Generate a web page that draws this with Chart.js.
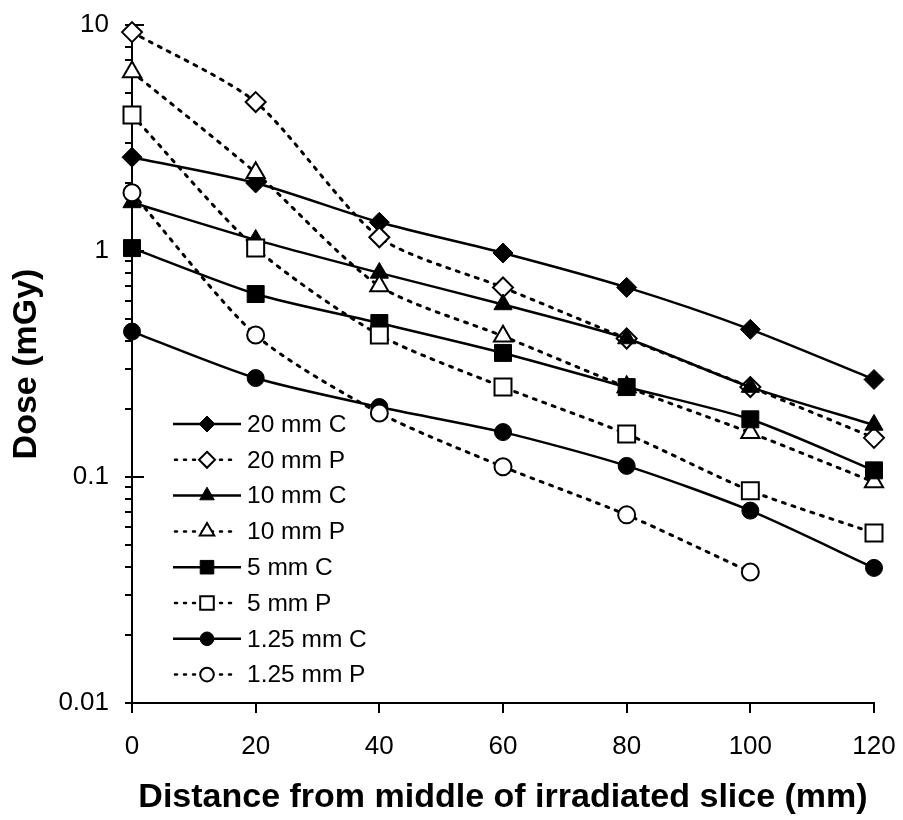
<!DOCTYPE html>
<html>
<head>
<meta charset="utf-8">
<title>Dose vs distance</title>
<script src="https://cdn.jsdelivr.net/npm/chart.js@4.4.0/dist/chart.umd.min.js"></script>
<style>
  html, body { margin: 0; padding: 0; background: #fff; }
  #wrap { position: relative; width: 903px; height: 820px; }
</style>
</head>
<body>
<div id="wrap"><canvas id="chart"></canvas></div>
<script>
// distance from middle of irradiated slice (mm)
const xValues = [0, 20, 40, 60, 80, 100, 120];

// dose (mGy), C = CT, P = phantom
const seriesNames = ["20 mm C", "20 mm P", "10 mm C", "10 mm P", "5 mm C", "5 mm P", "1.25 mm C", "1.25 mm P"];
const dose20C = [2.6, 2.0, 1.34, 0.98, 0.69, 0.45, 0.27];
const dose20P = [9.3, 4.56, 1.15, 0.69, 0.41, 0.25, 0.149];
const dose10C = [1.64, 1.12, 0.80, 0.58, 0.41, 0.25, 0.17];
const dose10P = [6.2, 2.22, 0.70, 0.42, 0.25, 0.157, 0.095];
const dose5C = [1.03, 0.645, 0.48, 0.354, 0.25, 0.18, 0.107];
const dose5P = [4.0, 1.03, 0.425, 0.25, 0.155, 0.087, 0.0565];
const dose125C = [0.44, 0.274, 0.204, 0.158, 0.112, 0.071, 0.0396];
const dose125P = [1.81, 0.425, 0.192, 0.111, 0.068, 0.038, null];
const seriesValues = [dose20C, dose20P, dose10C, dose10P, dose5C, dose5P, dose125C, dose125P];
const seriesMarkers = ["rectRot", "rectRot", "triangle", "triangle", "rect", "rect", "circle", "circle"];

// axis ticks
const xTicks = [0, 20, 40, 60, 80, 100, 120];
const yMajorTicks = [0.01, 0.1, 1, 10];
const yTickLabels = ["0.01", "0.1", "1", "10"];

const markerRadius = { rectRot: 10, triangle: 10.5, rect: 12, circle: 8.5 };
const FONT = "'Liberation Sans', Arial, sans-serif";

const datasets = seriesNames.map((name, i) => {
  const filled = name.endsWith("C");
  return {
    label: name,
    data: xValues.map((x, j) => ({ x: x, y: seriesValues[i][j] })).filter(p => p.y != null),
    borderColor: "#000",
    borderWidth: filled ? 2.5 : 3,
    borderDash: filled ? [] : [3, 7],
    borderCapStyle: filled ? "butt" : "round",
    tension: 0.25,
    pointStyle: seriesMarkers[i],
    pointRadius: markerRadius[seriesMarkers[i]],
    pointBackgroundColor: filled ? "#000" : "#fff",
    pointBorderColor: "#000",
    pointBorderWidth: filled ? 1 : 2,
    clip: false,
    order: seriesNames.length - i
  };
});

function drawMarker(ctx, style, x, y, r, filled) {
  ctx.save();
  ctx.beginPath();
  if (style === "rectRot") {
    ctx.moveTo(x, y - r); ctx.lineTo(x + r, y); ctx.lineTo(x, y + r); ctx.lineTo(x - r, y);
    ctx.closePath();
  } else if (style === "triangle") {
    ctx.moveTo(x, y - r);
    ctx.lineTo(x + r * 0.866, y + r * 0.5);
    ctx.lineTo(x - r * 0.866, y + r * 0.5);
    ctx.closePath();
  } else if (style === "rect") {
    const s = r * Math.SQRT1_2;
    ctx.rect(x - s, y - s, 2 * s, 2 * s);
  } else {
    ctx.arc(x, y, r, 0, Math.PI * 2);
  }
  ctx.fillStyle = filled ? "#000" : "#fff";
  ctx.fill();
  ctx.lineWidth = filled ? 1 : 2;
  ctx.strokeStyle = "#000";
  ctx.stroke();
  ctx.restore();
}

// legend drawn inside the plot, lower left
const insideLegend = {
  id: "insideLegend",
  afterDatasetsDraw(chart) {
    const ctx = chart.ctx;
    const area = chart.chartArea;
    const x0 = area.left + 41;
    const y0 = area.top + 399;
    const rowH = 35.8;
    chart.data.datasets.forEach((ds, i) => {
      const y = y0 + i * rowH;
      const filled = ds.label.endsWith("C");
      ctx.save();
      ctx.strokeStyle = "#000";
      if (filled) {
        ctx.lineWidth = 2.5;
        ctx.beginPath(); ctx.moveTo(x0, y); ctx.lineTo(x0 + 68, y); ctx.stroke();
      } else {
        ctx.lineWidth = 2.5;
        ctx.lineCap = "round";
        ctx.setLineDash([2, 7]);
        ctx.beginPath(); ctx.moveTo(x0 + 2, y); ctx.lineTo(x0 + 64, y); ctx.stroke();
      }
      ctx.restore();
      drawMarker(ctx, ds.pointStyle, x0 + 34, y, ds.pointRadius * 0.8, filled);
      ctx.save();
      ctx.fillStyle = "#000";
      ctx.font = "24.5px " + FONT;
      ctx.textAlign = "left";
      ctx.textBaseline = "middle";
      ctx.fillText(ds.label, x0 + 74, y + 1);
      ctx.restore();
    });
  }
};

// major y ticks also poke a little into the plot
const innerTicks = {
  id: "innerTicks",
  beforeDatasetsDraw(chart) {
    const ctx = chart.ctx;
    const ys = chart.scales.y;
    ctx.save();
    ctx.strokeStyle = "#000";
    ctx.lineWidth = 2;
    yMajorTicks.forEach(v => {
      if (v === yMajorTicks[0]) return;
      const py = Math.round(ys.getPixelForValue(v));
      ctx.beginPath();
      ctx.moveTo(ys.right, py);
      ctx.lineTo(ys.right + 12, py);
      ctx.stroke();
    });
    ctx.restore();
  }
};

new Chart(document.getElementById("chart"), {
  type: "line",
  data: { datasets: datasets },
  plugins: [innerTicks, insideLegend],
  options: {
    responsive: true,
    maintainAspectRatio: false,
    animation: false,
    layout: { padding: { top: 25, right: 29, left: 0, bottom: 0 } },
    plugins: {
      legend: { display: false },
      tooltip: { enabled: false }
    },
    scales: {
      x: {
        type: "linear",
        min: 0,
        max: 120,
        afterBuildTicks(scale) {
          scale.ticks = xTicks.map(v => ({ value: v }));
        },
        afterFit(scale) {
          scale.height = 117;
          scale.paddingLeft = 0;
          scale.paddingRight = 0;
        },
        border: { color: "#000", width: 2 },
        grid: { drawOnChartArea: false, color: "#000", lineWidth: 2, tickLength: 10 },
        ticks: {
          color: "#000",
          padding: 18,
          font: { family: FONT, size: 26 },
          maxRotation: 0,
          autoSkip: false
        },
        title: {
          display: true,
          text: "Distance from middle of irradiated slice (mm)",
          color: "#000",
          font: { family: FONT, size: 34, weight: "bold" },
          padding: { top: 0, bottom: 2 }
        }
      },
      y: {
        type: "logarithmic",
        min: 0.01,
        max: 10,
        afterBuildTicks(scale) {
          const ticks = [];
          yMajorTicks.forEach((d, k) => {
            ticks.push({ value: d, major: true });
            if (k < yMajorTicks.length - 1) {
              for (let m = 2; m <= 9; m++) ticks.push({ value: d * m });
            }
          });
          scale.ticks = ticks;
        },
        afterFit(scale) {
          scale.width = 132;
          scale.paddingTop = 0;
          scale.paddingBottom = 0;
        },
        border: { color: "#000", width: 2 },
        grid: { drawOnChartArea: false, color: "#000", lineWidth: 2, tickLength: 7 },
        ticks: {
          color: "#000",
          padding: 16,
          autoSkip: false,
          font: { family: FONT, size: 26 },
          callback(value) {
            const k = yMajorTicks.findIndex(t => Math.abs(t - value) / t < 1e-6);
            return k >= 0 ? yTickLabels[k] : "";
          }
        },
        title: {
          display: true,
          text: "Dose (mGy)",
          color: "#000",
          font: { family: FONT, size: 34, weight: "bold" },
          padding: { top: 6, bottom: 0 }
        }
      }
    }
  }
});
</script>
</body>
</html>
